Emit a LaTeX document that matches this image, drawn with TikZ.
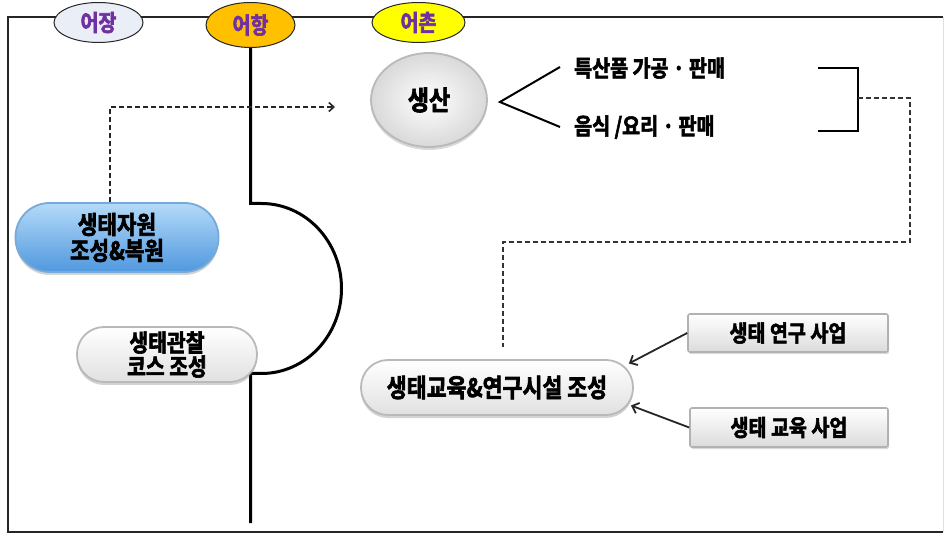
\documentclass[tikz,border=0pt]{standalone}
\usepackage{fontspec}
\setmainfont{Noto Sans CJK KR}[BoldFont={Noto Sans CJK KR Bold}, BoldFeatures={FakeStretch=0.85, FakeBold=2.5}]
\usetikzlibrary{shapes.geometric,arrows.meta,shadows,calc}
\definecolor{lblpurple}{RGB}{112,48,160}
\definecolor{jangfill}{RGB}{233,238,247}
\definecolor{hangfill}{RGB}{255,192,0}
\definecolor{chonfill}{RGB}{255,255,0}
\definecolor{bluetop}{RGB}{180,218,248}
\definecolor{bluebot}{RGB}{80,152,222}
\definecolor{blueedge}{RGB}{120,170,215}
\newcommand{\fs}[1]{\fontsize{#1}{#1}\selectfont}
\tikzset{
  toplabel/.style={ellipse, draw=black!85, line width=1pt, text=lblpurple,
    font=\bfseries\fs{23}, inner sep=0pt, minimum height=40pt},
  axisline/.style={line width=3pt, black},
  dasharrow/.style={dash pattern=on 5pt off 3pt, line width=1.7pt, black!85,
    -{Straight Barb[length=5pt,width=9pt,line width=1.6pt]}},
  dashline/.style={dash pattern=on 5pt off 3pt, line width=1.6pt, black!80},
  solidarrow/.style={line width=1.8pt, black!85,
    -{Straight Barb[length=6pt,width=11pt,line width=1.8pt]}},
  branch/.style={line width=2pt, black},
  bracketline/.style={line width=2.2pt, black},
  greypill/.style={rectangle, top color=white, bottom color=gray!24,
    draw=gray!55, line width=1.8pt, inner sep=0pt, align=center,
    drop shadow={opacity=0.35, shadow xshift=0pt, shadow yshift=-3pt}},
  bluepill/.style={rectangle, top color=bluetop, bottom color=bluebot,
    draw=blueedge, line width=1.8pt, inner sep=0pt, align=center,
    drop shadow={opacity=0.35, shadow xshift=0pt, shadow yshift=-3pt}},
  prodball/.style={ellipse, inner color=white, outer color=gray!30,
    draw=gray!55, line width=1.8pt, inner sep=0pt,
    drop shadow={opacity=0.3, shadow xshift=0pt, shadow yshift=-3pt}},
  greybox/.style={rectangle, rounded corners=2pt, top color=white, bottom color=gray!28,
    draw=gray!60, line width=1.6pt, inner sep=0pt,
    drop shadow={opacity=0.3, shadow xshift=1pt, shadow yshift=-2pt}},
  plaintext/.style={inner sep=0pt, anchor=west, font=\bfseries\fs{23}}
}
\begin{document}
\begin{tikzpicture}[x=1pt,y=-1pt]
\useasboundingbox (0,0) rectangle (945,534);
% frame
\draw[line width=1.4pt, black!85] (943,17) -- (8,17) -- (8,532) -- (943,532);
\draw[line width=0.8pt, gray!25] (943,17) -- (943,532);

% top labels
\node[toplabel, fill=jangfill, minimum width=89pt] (jang) at (98.5,22.5) {어장};
\node[toplabel, fill=hangfill, minimum width=89pt, minimum height=45pt] (hang) at (250.5,25) {어항};
\node[toplabel, fill=chonfill, minimum width=93pt] (chon) at (418.5,22.5) {어촌};

% axis line with bulge
\draw[axisline] (hang.south) -- ++(0,155.5) -- ++(11,0)
  arc[start angle=-90, end angle=90, x radius=80, y radius=85]
  -- ++(-11,0) -- (250.5,523);

% left pills
\node[bluepill, rounded corners=34pt, minimum width=203pt, minimum height=69pt,
  font=\bfseries\fs{25}] (res) at (117,237.5) {생태자원\\[1pt]조성\&복원};
\node[greypill, rounded corners=27pt, minimum width=180pt, minimum height=55pt,
  font=\bfseries\fs{24}] (obs) at (167,354.5) {생태관찰\\[0pt]코스 조성};

% production
\node[prodball, minimum width=116pt, minimum height=94pt, font=\bfseries\fs{27}]
  (prod) at (429,100) {생산};
\coordinate (tip) at (335,107);
\draw[dasharrow] ($(res.north)+(-7,0)$) |- (tip);

% branches
\node[plaintext] (t1) at (574,68) {특산품 가공 · 판매};
\node[plaintext] (t2) at (574,127) {음식 /요리 · 판매};
\coordinate (apex) at ($(prod.east)+(12,2)$);
\draw[branch] ($(t1.west)+(-14,-1)$) -- (apex) -- ($(t2.west)+(-14,0)$);

% bracket
\coordinate (brt) at (818,68);
\coordinate (brb) at (818,131);
\coordinate (brmid) at (858,98);
\draw[bracketline] (brt) -- (858,68) -- (858,131) -- (brb);

% education pill
\node[greypill, rounded corners=27pt, minimum width=272pt, minimum height=55pt,
  font=\bfseries\fs{25.5}] (edu) at (497,387.5) {생태교육\&연구시설 조성};
\draw[dashline] (brmid) -- (910,98) -- (910,242) -- (503,242)
  -- ($(edu.north)+(6,-12)$);

% boxes
\node[greybox, minimum width=200pt, minimum height=38pt, font=\bfseries\fs{23}]
  (box1) at (788,333) {생태 연구 사업};
\node[greybox, minimum width=198pt, minimum height=39pt, font=\bfseries\fs{23}]
  (box2) at (789,427.5) {생태 교육 사업};
\draw[solidarrow] (box1.west) -- ($(edu.east)+(-5,-24)$);
\draw[solidarrow] (box2.west) -- ($(edu.east)+(-3,18)$);
\end{tikzpicture}
\end{document}
